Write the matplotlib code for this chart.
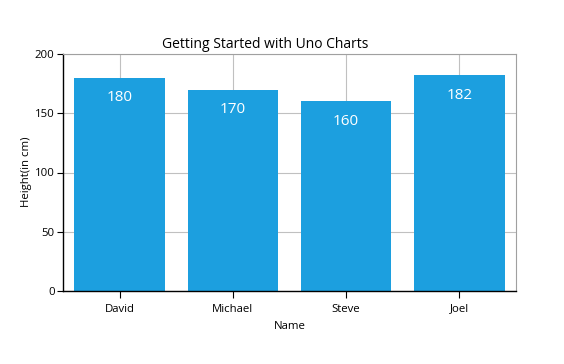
import numpy as np
import matplotlib.pyplot as plt

plt.rcParams['font.family'] = ['Open Sans', 'DejaVu Sans']

names = ['David', 'Michael', 'Steve', 'Joel']
heights = [180, 170, 160, 182]
yticks = [0, 50, 100, 150, 200]

fig = plt.figure(figsize=(5.64, 3.64), dpi=100)
ax = fig.add_axes([63/564, 1-291/364, (516-63)/564, (291-54)/364])

x = np.arange(len(names))
bars = ax.bar(x, heights, width=0.8, color='#1C9FDF', zorder=2)
for b, h in zip(bars, heights):
    ax.annotate(str(h), (b.get_x() + b.get_width()/2, h), xytext=(0, -20),
                textcoords='offset pixels', ha='center', va='center',
                color='white', fontsize=11)

ax.set_xlim(-0.5, len(names) - 0.5)
ax.set_ylim(0, 200)
ax.set_yticks(yticks)
ax.set_xticks(x)
ax.set_xticklabels(names)
ax.grid(True, color='#c0c0c0', lw=0.8, zorder=0)
ax.tick_params(labelsize=8.2, length=4, width=0.8, colors='black', pad=2)
ax.tick_params(axis='x', length=5, pad=4)
for s in ['top', 'right']:
    ax.spines[s].set_color('#a0a0a0')
    ax.spines[s].set_linewidth(0.8)
for s in ['left', 'bottom']:
    ax.spines[s].set_color('black')
    ax.spines[s].set_linewidth(1.0)

ax.set_xlabel('Name', fontsize=8.2, labelpad=5)
fig.text(26/564, 1-172/364, 'Height(in cm)', rotation=90, fontsize=8.2,
         ha='center', va='center')
fig.text(265/564, 1-45/364, 'Getting Started with Uno Charts', fontsize=10,
         ha='center', va='center')

fig.savefig('out.png', dpi=100)
